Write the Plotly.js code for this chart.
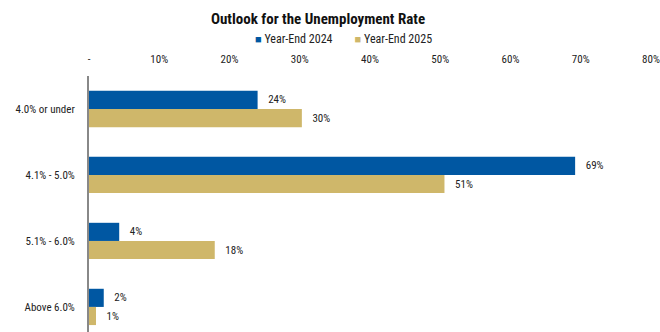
<!DOCTYPE html>
<html><head><meta charset="utf-8">
<script src="https://cdn.plot.ly/plotly-3.0.1.min.js"></script>
<style>body{margin:0;padding:0;background:#fff}#c{width:660px;height:332px}</style>
</head><body><div id="c"></div>
<script>
const categories = ["4.0% or under", "4.1% - 5.0%", "5.1% - 6.0%", "Above 6.0%"];
const ye2024 = [24.0, 69.2, 4.3, 2.1];
const ye2025 = [30.3, 50.6, 17.9, 1.0];
const tickVals = [0, 10, 20, 30, 40, 50, 60, 70, 80];
const tickText = ["-", "10%", "20%", "30%", "40%", "50%", "60%", "70%", "80%"];
const seriesNames = ["Year-End 2024", "Year-End 2025"];
const seriesColors = ["#0057A2", "#CFB76A"];
const FONT = '"Roboto Condensed", "Liberation Sans Narrow", "Arial Narrow", Roboto, sans-serif';

const mk = (name, vals, color) => ({
  type: 'bar', orientation: 'h', name: name,
  y: categories, x: vals,
  marker: {color: color},
  text: vals.map(v => '   ' + Math.round(v) + '%'),
  textposition: 'outside',
  textfont: {family: FONT, size: 11, color: '#222'},
  cliponaxis: false,
  hoverinfo: 'none'
});

const data = [mk(seriesNames[0], ye2024, seriesColors[0]), mk(seriesNames[1], ye2025, seriesColors[1])];

const sq = c => '<span style="color:' + c + ';font-size:11px">■</span>';
const legendText = sq(seriesColors[0]) + ' ' + seriesNames[0] + '        ' + sq(seriesColors[1]) + ' ' + seriesNames[1];

const layout = {
  width: 660, height: 332,
  margin: {l: 89, r: 9, t: 76, b: 0, pad: 0},
  paper_bgcolor: '#fff', plot_bgcolor: '#fff',
  font: {family: FONT, size: 11, color: '#222'},
  title: {text: '<b>Outlook for the Unemployment Rate</b>', x: 318/660, xanchor: 'center', xref: 'container', y: 1 - 19/332, yanchor: 'middle', yref: 'container', font: {family: FONT, size: 15, color: '#111'}},
  barmode: 'group', bargap: 0.45, bargroupgap: 0,
  showlegend: false,
  annotations: [{text: legendText, xref: 'paper', yref: 'paper', x: (343 - 89) / 562, y: 1 + (76 - 39) / 256, xanchor: 'center', yanchor: 'middle', showarrow: false, font: {family: FONT, size: 12, color: '#222'}}],
  xaxis: {side: 'top', range: [0, 80], tickvals: tickVals, ticktext: tickText, showgrid: false, zeroline: false, showline: false, ticks: '', ticklabelstandoff: 10, tickfont: {family: FONT, size: 11, color: '#222'}, fixedrange: true},
  yaxis: {type: 'category', range: [3.38, -0.5], showgrid: false, zeroline: false, showline: true, linecolor: '#888', linewidth: 2, ticks: '', ticklabelstandoff: 10, tickfont: {family: FONT, size: 11, color: '#222'}, fixedrange: true}
};
Plotly.newPlot('c', data, layout, {displayModeBar: false, staticPlot: true});
</script></body></html>
